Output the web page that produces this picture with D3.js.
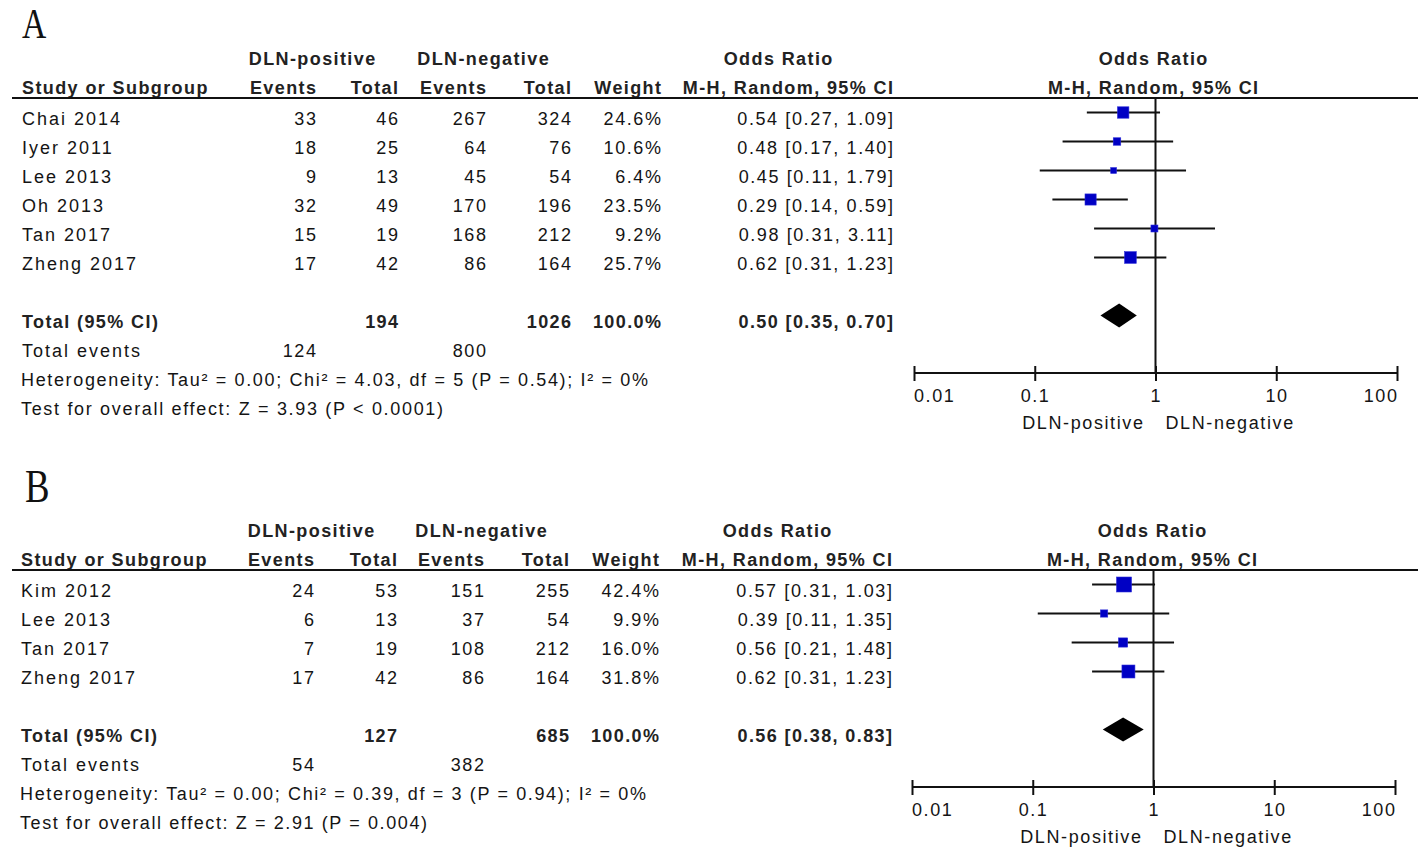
<!DOCTYPE html>
<html>
<head>
<meta charset="utf-8">
<script src="https://cdn.jsdelivr.net/npm/d3@7"></script>
<style>
  html, body { margin: 0; padding: 0; background: #fff; }
  svg { display: block; }
  text { font-family: "Liberation Sans", Arial, sans-serif; fill: #141414; }
  .n { font-size: 18px; letter-spacing: 1.6px; }
  .nm { font-size: 18px; letter-spacing: 2px; }
  .s { font-size: 18px; }
  .b { font-size: 18px; font-weight: bold; letter-spacing: 1.4px; fill: #222; }
  .letter { font-family: "Liberation Serif", "Times New Roman", serif; fill: #111; }
</style>
</head>
<body>
<svg id="chart" width="1418" height="849"></svg>
<script>
// ---------------- DATA ----------------
const tickValues = [0.01, 0.1, 1, 10, 100];
const tickLabels = ["0.01", "0.1", "1", "10", "100"];
const favoursLabels = ["DLN-positive", "DLN-negative"];

// Panel A
const studiesA   = ["Chai 2014", "Iyer 2011", "Lee 2013", "Oh 2013", "Tan 2017", "Zheng 2017"];
const posEventsA = [33, 18, 9, 32, 15, 17];
const posTotalA  = [46, 25, 13, 49, 19, 42];
const negEventsA = [267, 64, 45, 170, 168, 86];
const negTotalA  = [324, 76, 54, 196, 212, 164];
const weightA    = [24.6, 10.6, 6.4, 23.5, 9.2, 25.7];
const orA        = [0.54, 0.48, 0.45, 0.29, 0.98, 0.62];
const lowA       = [0.27, 0.17, 0.11, 0.14, 0.31, 0.31];
const highA      = [1.09, 1.40, 1.79, 0.59, 3.11, 1.23];
const pooledA    = [0.50, 0.35, 0.70];          // OR, low, high
const totalsA    = [194, 1026, 100.0];          // pos total, neg total, weight
const totalEventsA = [124, 800];
const hetA  = "Heterogeneity: Tau² = 0.00; Chi² = 4.03, df = 5 (P = 0.54); I² = 0%";
const testA = "Test for overall effect: Z = 3.93 (P < 0.0001)";

// Panel B
const studiesB   = ["Kim 2012", "Lee 2013", "Tan 2017", "Zheng 2017"];
const posEventsB = [24, 6, 7, 17];
const posTotalB  = [53, 13, 19, 42];
const negEventsB = [151, 37, 108, 86];
const negTotalB  = [255, 54, 212, 164];
const weightB    = [42.4, 9.9, 16.0, 31.8];
const orB        = [0.57, 0.39, 0.56, 0.62];
const lowB       = [0.31, 0.11, 0.21, 0.31];
const highB      = [1.03, 1.35, 1.48, 1.23];
const pooledB    = [0.56, 0.38, 0.83];
const totalsB    = [127, 685, 100.0];
const totalEventsB = [54, 382];
const hetB  = "Heterogeneity: Tau² = 0.00; Chi² = 0.39, df = 3 (P = 0.94); I² = 0%";
const testB = "Test for overall effect: Z = 2.91 (P = 0.004)";

// ---------------- DRAW ----------------
const svg = d3.select("#chart");
const f2 = d3.format(".2f");
const f1 = d3.format(".1f");
const ciText = (o, l, h) => `${f2(o)} [${f2(l)}, ${f2(h)}]`;

function drawPanel(p) {
  const g = svg.append("g");
  const n = p.studies.length;
  const rows = d3.scaleLinear().domain([0, 1]).range([p.row0, p.row0 + 29]);
  const x = d3.scaleLog().domain([0.01, 100]).range(p.xRange);
  const base = i => rows(i) + 7;      // text baseline
  const mid = i => rows(i) - 5.5;     // mark centre
  const c = p.cols;
  const ls = 1.6;

  // panel letter
  g.append("text").attr("class", "letter")
    .attr("font-size", p.letterSize)
    .attr("transform", `translate(${p.letterX},${p.letterY}) scale(0.8,1)`)
    .text(p.letter);

  // header
  const h1 = p.row0 - 53, h2 = p.row0 - 24;
  const hdr = [
    {t: "DLN-positive", x: c.pos, y: h1, a: "middle"},
    {t: "DLN-negative", x: c.neg, y: h1, a: "middle"},
    {t: "Odds Ratio", x: c.or1, y: h1, a: "middle"},
    {t: "Odds Ratio", x: c.or2, y: h1, a: "middle"},
    {t: "Study or Subgroup", x: c.name, y: h2, a: "start"},
    {t: "Events", x: c.pe, y: h2, a: "end"},
    {t: "Total", x: c.pt, y: h2, a: "end"},
    {t: "Events", x: c.ne, y: h2, a: "end"},
    {t: "Total", x: c.nt, y: h2, a: "end"},
    {t: "Weight", x: c.w, y: h2, a: "end"},
    {t: "M-H, Random, 95% CI", x: c.ci, y: h2, a: "end"},
    {t: "M-H, Random, 95% CI", x: c.or2, y: h2, a: "middle"}
  ];
  g.selectAll("text.hdr").data(hdr).join("text").attr("class", "b hdr")
    .attr("x", d => d.a === "end" ? d.x + 1.4 : (d.a === "middle" ? d.x + 0.7 : d.x))
    .attr("y", d => d.y).attr("text-anchor", d => d.a).text(d => d.t);

  // header underline
  const lineY = p.row0 - 20;
  g.append("line").attr("x1", 12).attr("x2", 1418).attr("y1", lineY).attr("y2", lineY)
    .attr("stroke", "#111").attr("stroke-width", 2);

  // study rows
  const cells = [];
  p.studies.forEach((s, i) => {
    cells.push({t: s, x: c.name, y: base(i), a: "start", k: "nm"});
    cells.push({t: p.pe[i], x: c.pe, y: base(i), a: "end"});
    cells.push({t: p.pt[i], x: c.pt, y: base(i), a: "end"});
    cells.push({t: p.ne[i], x: c.ne, y: base(i), a: "end"});
    cells.push({t: p.nt[i], x: c.nt, y: base(i), a: "end"});
    cells.push({t: f1(p.w[i]) + "%", x: c.w, y: base(i), a: "end"});
    cells.push({t: ciText(p.or[i], p.lo[i], p.hi[i]), x: c.ci, y: base(i), a: "end"});
  });
  // totals
  const tr = n + 1;
  cells.push({t: p.totEv[0], x: c.pe, y: base(tr + 1), a: "end"});
  cells.push({t: p.totEv[1], x: c.ne, y: base(tr + 1), a: "end"});
  cells.push({t: "Total events", x: c.name, y: base(tr + 1), a: "start", k: "nm"});
  g.selectAll("text.cell").data(cells).join("text").attr("class", d => (d.k || "n") + " cell")
    .attr("x", d => d.a === "end" ? d.x + ls : d.x)
    .attr("y", d => d.y).attr("text-anchor", d => d.a).text(d => d.t);

  const tot = [
    {t: "Total (95% CI)", x: c.name, a: "start"},
    {t: p.tot[0], x: c.pt, a: "end"},
    {t: p.tot[1], x: c.nt, a: "end"},
    {t: f1(p.tot[2]) + "%", x: c.w, a: "end"},
    {t: ciText(p.pooled[0], p.pooled[1], p.pooled[2]), x: c.ci, a: "end"}
  ];
  g.selectAll("text.tot").data(tot).join("text").attr("class", "b tot")
    .attr("x", d => d.a === "end" ? d.x + 1.4 : d.x)
    .attr("y", base(tr)).attr("text-anchor", d => d.a).text(d => d.t);

  g.append("text").attr("class", "s").attr("x", c.name - 1).attr("y", base(tr + 2))
    .attr("textLength", p.hetLen).attr("lengthAdjust", "spacing").text(p.het);
  g.append("text").attr("class", "s").attr("x", c.name - 1).attr("y", base(tr + 3))
    .attr("textLength", p.testLen).attr("lengthAdjust", "spacing").text(p.test);

  // ----- forest plot -----
  const axisY = p.axisY;
  // line of no effect
  g.append("line").attr("x1", x(1)).attr("x2", x(1)).attr("y1", lineY).attr("y2", axisY)
    .attr("stroke", "#111").attr("stroke-width", 2);

  // CI lines
  const idx = d3.range(n);
  g.selectAll("line.ci").data(idx).join("line").attr("class", "ci")
    .attr("x1", i => x(p.lo[i])).attr("x2", i => x(p.hi[i]))
    .attr("y1", i => mid(i)).attr("y2", i => mid(i))
    .attr("stroke", "#111").attr("stroke-width", 2);
  // squares sized by weight
  const side = d3.scaleSqrt().domain([0, 100]).range([0, 23]);
  g.selectAll("rect.sq").data(idx).join("rect").attr("class", "sq")
    .attr("x", i => x(p.or[i]) - side(p.w[i]) / 2)
    .attr("y", i => mid(i) - side(p.w[i]) / 2)
    .attr("width", i => side(p.w[i])).attr("height", i => side(p.w[i]))
    .attr("fill", "#0000c4").attr("stroke", "#2a2ad8").attr("stroke-width", 0.6);

  // diamond
  const dy = mid(tr), dh = 12;
  g.append("path")
    .attr("d", `M${x(p.pooled[1])},${dy} L${x(p.pooled[0])},${dy - dh} L${x(p.pooled[2])},${dy} L${x(p.pooled[0])},${dy + dh} Z`)
    .attr("fill", "#000");

  // axis
  const axis = d3.axisBottom(x).tickValues(tickValues).tickSize(0).tickFormat("");
  const ag = g.append("g").attr("transform", `translate(0,${axisY})`).call(axis);
  ag.select(".domain").attr("stroke", "#111").attr("stroke-width", 2).attr("d", `M${p.xRange[0]},0H${p.xRange[1]}`);
  ag.selectAll(".tick").append("line").attr("y1", -7).attr("y2", 8)
    .attr("stroke", "#111").attr("stroke-width", 2);
  g.selectAll("text.tl").data(tickValues).join("text").attr("class", "n tl")
    .attr("x", (d, i) => i === 0 ? x(d) : (i === tickValues.length - 1 ? x(d) + 1.6 : x(d) + 0.8))
    .attr("y", axisY + 29)
    .attr("text-anchor", (d, i) => i === 0 ? "start" : (i === tickValues.length - 1 ? "end" : "middle"))
    .text((d, i) => tickLabels[i]);
  g.append("text").attr("class", "n").attr("x", x(1) - 11).attr("y", axisY + 56)
    .attr("text-anchor", "end").text(favoursLabels[0]);
  g.append("text").attr("class", "n").attr("x", x(1) + 10).attr("y", axisY + 56)
    .attr("text-anchor", "start").text(favoursLabels[1]);
}

drawPanel({
  letter: "A", letterX: 22, letterY: 38, letterSize: 42,
  row0: 118, axisY: 373, xRange: [914, 1397],
  cols: {name: 22, pos: 312, neg: 483, or1: 778, or2: 1153, pe: 316, pt: 398, ne: 486, nt: 571, w: 661, ci: 893},
  studies: studiesA, pe: posEventsA, pt: posTotalA, ne: negEventsA, nt: negTotalA,
  w: weightA, or: orA, lo: lowA, hi: highA, pooled: pooledA, tot: totalsA, totEv: totalEventsA,
  het: hetA, test: testA, hetLen: 627, testLen: 422
});
drawPanel({
  letter: "B", letterX: 25, letterY: 502, letterSize: 46,
  row0: 590, axisY: 787, xRange: [912, 1395],
  cols: {name: 21, pos: 311, neg: 481, or1: 777, or2: 1152, pe: 314, pt: 397, ne: 484, nt: 569, w: 659, ci: 892},
  studies: studiesB, pe: posEventsB, pt: posTotalB, ne: negEventsB, nt: negTotalB,
  w: weightB, or: orB, lo: lowB, hi: highB, pooled: pooledB, tot: totalsB, totEv: totalEventsB,
  het: hetB, test: testB, hetLen: 626, testLen: 407
});
</script>
</body>
</html>
